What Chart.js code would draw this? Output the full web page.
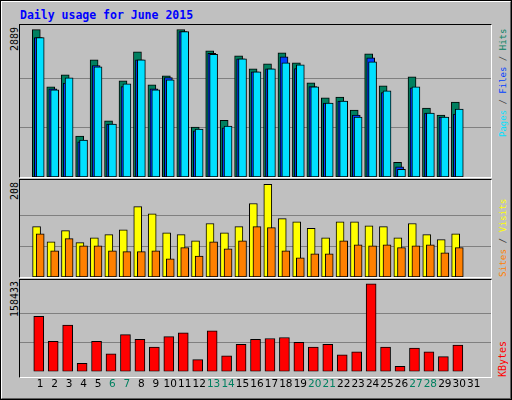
<!DOCTYPE html>
<html><head><meta charset="utf-8">
<script src="https://cdn.jsdelivr.net/npm/chart.js@4"></script>
<style>
html,body{margin:0;padding:0;background:#c0c0c0;}
#frame{position:absolute;left:0;top:0;width:508px;height:396px;border:2px solid;border-color:#fff #606060 #606060 #fff;outline:1px solid #000;outline-offset:-1px;background:#c0c0c0;}
.t{position:absolute;font-family:"DejaVu Sans Mono",monospace;white-space:nowrap;line-height:12px;}
.rot{transform-origin:0 0;transform:rotate(-90deg);}
.panel{position:absolute;border-top:1px solid #000;border-left:1px solid #000;border-right:1px solid #fff;border-bottom:1px solid #fff;box-sizing:border-box;}
canvas{position:absolute;}
</style></head><body>
<div id="frame"></div>
<div class="t" style="left:20px;top:9px;font-size:11.5px;font-weight:bold;color:#0000ff">Daily usage for June 2015</div>
<div class="panel" style="left:19px;top:24px;width:473px;height:154px"></div>
<div class="panel" style="left:19px;top:179px;width:473px;height:99px"></div>
<div class="panel" style="left:19px;top:279px;width:473px;height:99px"></div>
<div class="t rot" style="left:9px;top:51px;font-size:10px;color:#000">2889</div>
<div class="t rot" style="left:9px;top:200px;font-size:10px;color:#000">208</div>
<div class="t rot" style="left:9px;top:317px;font-size:10px;color:#000">158433</div>
<div class="t rot" style="left:497px;top:137px;font-size:9px"><span style="color:#00e0ff">Pages</span><span style="color:#404040"> / </span><span style="color:#0040ff">Files</span><span style="color:#404040"> / </span><span style="color:#008060">Hits</span></div>
<div class="t rot" style="left:497px;top:277px;font-size:9.3px"><span style="color:#ff8000">Sites</span><span style="color:#404040"> / </span><span style="color:#ffff00">Visits</span></div>
<div class="t rot" style="left:497px;top:377px;font-size:10px;color:#ff0000">KBytes</div>
<canvas id="c1" style="left:20px;top:25px"></canvas>
<canvas id="c2" style="left:20px;top:180px"></canvas>
<canvas id="c3" style="left:20px;top:280px"></canvas>
<script>
const days=[1,2,3,4,5,6,7,8,9,10,11,12,13,14,15,16,17,18,19,20,21,22,23,24,25,26,27,28,29,30];
const dayLabels=[1,2,3,4,5,6,7,8,9,10,11,12,13,14,15,16,17,18,19,20,21,22,23,24,25,26,27,28,29,30,31];
const weekendDays=[6,7,13,14,20,21,27,28];
const hits=[2889,1766,2003,801,2298,1100,1884,2456,1806,1983,2889,977,2475,1113,2377,2121,2219,2436,2239,1845,1550,1569,1313,2416,1786,289,1963,1353,1214,1471];
const files=[2731,1727,1839,689,2186,1037,1773,2298,1727,1950,2850,906,2423,965,2318,2062,2121,2357,2127,1773,1451,1490,1215,2337,1655,197,1747,1254,1175,1234];
const pages=[2731,1707,1944,722,2160,1037,1825,2298,1707,1904,2850,939,2403,998,2318,2062,2121,2239,2200,1766,1451,1490,1175,2259,1688,151,1766,1254,1175,1333];
const visits=[113,79,104,77,88,95,106,158,142,99,95,81,120,99,113,165,208,131,124,109,88,124,124,115,113,88,120,95,84,97];
const sites=[97,59,86,70,70,59,57,57,59,41,66,47,79,63,81,113,111,59,43,52,52,81,72,70,72,66,70,72,54,66];
const kbytes=[99454,54353,83842,14456,54353,31802,66496,57822,43945,63027,69966,21394,73435,28333,49149,57822,59557,61291,52618,43945,49149,30067,35271,158433,43945,9252,42210,35271,26598,47414];
const maxHits=2889, maxVisits=208, maxKB=158433;

const XMIN=0.128, XMAX=31.67;
function ds(vals,off,color,w,order){
  return {data:days.map((d,i)=>({x:d+off,y:vals[i]})),backgroundColor:color,borderColor:'#000',borderWidth:1,borderSkipped:false,barThickness:w,grouped:false,order:order};
}
function yScale(top,gmax){
  return {display:true,min:0,max:top,position:'left',border:{display:false},
    ticks:{display:false},grid:{color:'#808080',lineWidth:1,drawTicks:false},
    afterBuildTicks:s=>{s.ticks=[{value:gmax/3},{value:gmax*2/3}];},
    afterFit:s=>{s.width=0;}};
}
function xScale(show){
  return {type:'linear',min:XMIN,max:XMAX,display:show,border:{display:false},grid:{display:false,drawTicks:false},
    afterBuildTicks:s=>{s.ticks=dayLabels.map(v=>({value:v}));},
    ticks:{autoSkip:false,maxRotation:0,padding:7,font:{family:'"DejaVu Sans"',size:10.5},
      color:c=>weekendDays.includes(c.tick.value)?'#008060':'#000',callback:v=>String(v)}};
}
function make(id,w,h,datasets,top,gmax,showX){
  const c=document.getElementById(id);c.width=w;c.height=h;c.style.width=w+'px';c.style.height=h+'px';
  return new Chart(c,{type:'bar',data:{datasets},options:{responsive:false,animation:false,
    layout:{padding:0},plugins:{legend:{display:false},tooltip:{enabled:false}},
    scales:{x:xScale(showX),y:yScale(top,gmax)}}});
}
make('c1',471,152,[ds(hits,-0.27,'#008060',8,3),ds(files,-0.13,'#0040ff',8,2),ds(pages,0,'#00e0ff',8,1)],maxHits*151.3/146.7,maxHits,false);
make('c2',471,97,[ds(visits,-0.25,'#ffff00',8,2),ds(sites,0,'#ff8000',8,1)],maxVisits*96.3/92,maxVisits,false);
make('c3',471,118,[ds(kbytes,-0.1,'#ff0000',10,1)],maxKB*95.4/91.4,maxKB,true);
</script></body></html>
